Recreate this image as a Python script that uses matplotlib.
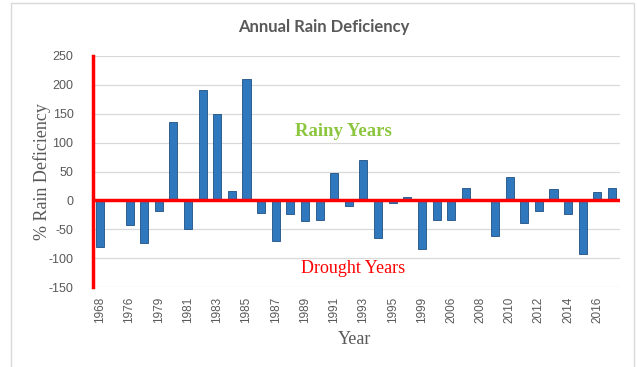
import matplotlib
matplotlib.use("Agg")
import matplotlib.pyplot as plt
from matplotlib.patches import Rectangle
import numpy as np

# Data (36 yearly bars; only every other one is labelled on the axis)
values = [-80, 0, -43, -74, -19, 136, -49, 191, 150, 16,
          210, -21, -71, -23, -36, -34, 48, -10, 70, -66,
          -4, 6, -85, -34, -34, 21, 0, -62, 40, -40,
          -19, 19, -24, -93, 15, 22]
tick_labels = ["1968", "1976", "1979", "1981", "1983", "1985", "1987", "1989",
               "1991", "1993", "1995", "1999", "2006", "2008", "2010", "2012",
               "2014", "2016"]
y_ticks = [-150, -100, -50, 0, 50, 100, 150, 200, 250]

fig = plt.figure(figsize=(6.37, 3.67), dpi=100)
ax = fig.add_axes([93/637, 1-287/367, (620-93)/637, (287-56)/367])

x = np.arange(len(values))
ax.bar(x, values, width=0.55, color="#2f78bd", edgecolor="#1f4f82",
       linewidth=0.6, zorder=2)

ax.set_xlim(-0.5, len(values) - 0.45)
ax.set_ylim(-150, 250)
ax.set_yticks(y_ticks)
ax.set_yticklabels([str(v) for v in y_ticks], color="#595959",
                   fontsize=9, family="Liberation Sans")
ax.set_xticks(x[::2])
ax.set_xticklabels(tick_labels, rotation=90, color="#595959",
                   fontsize=8.5, family="Liberation Sans")
ax.tick_params(length=0, pad=7)
ax.tick_params(axis="y", pad=14)

ax.grid(axis="y", color="#d9d9d9", linewidth=0.9, zorder=0)
ax.set_axisbelow(True)
for s in ["top", "right", "bottom"]:
    ax.spines[s].set_visible(False)
ax.spines["left"].set_color("red")
ax.spines["left"].set_linewidth(2.5)
ax.axhline(0, color="red", linewidth=2.5, zorder=3)

ax.text(0.475, 0.671, "Rainy Years", transform=ax.transAxes, ha="center",
        va="center", color="#8cc63f", fontsize=13.5, fontweight="bold",
        family="Liberation Serif")
ax.text(0.493, 0.082, "Drought Years", transform=ax.transAxes, ha="center",
        va="center", color="red", fontsize=13, family="Liberation Serif")

fig.text(324/637, 1-27/367, "Annual Rain Deficiency", ha="center", va="center",
         color="#595959", fontsize=12, fontweight="bold", family="Lato")
fig.text(42/637, 1-172/367, "% Rain Deficiency", ha="center", va="center",
         rotation=90, color="#595959", fontsize=13, family="Liberation Serif")
fig.text(355/637, 1-340/367, "Year", ha="center", va="center",
         color="#595959", fontsize=13, family="Liberation Serif")

fig.patches.append(Rectangle((11/637, -0.05), 623/637, 1.05 - 3/367,
                             transform=fig.transFigure, fill=False,
                             edgecolor="#d9d9d9", linewidth=1))

fig.savefig("out.png", dpi=100)
